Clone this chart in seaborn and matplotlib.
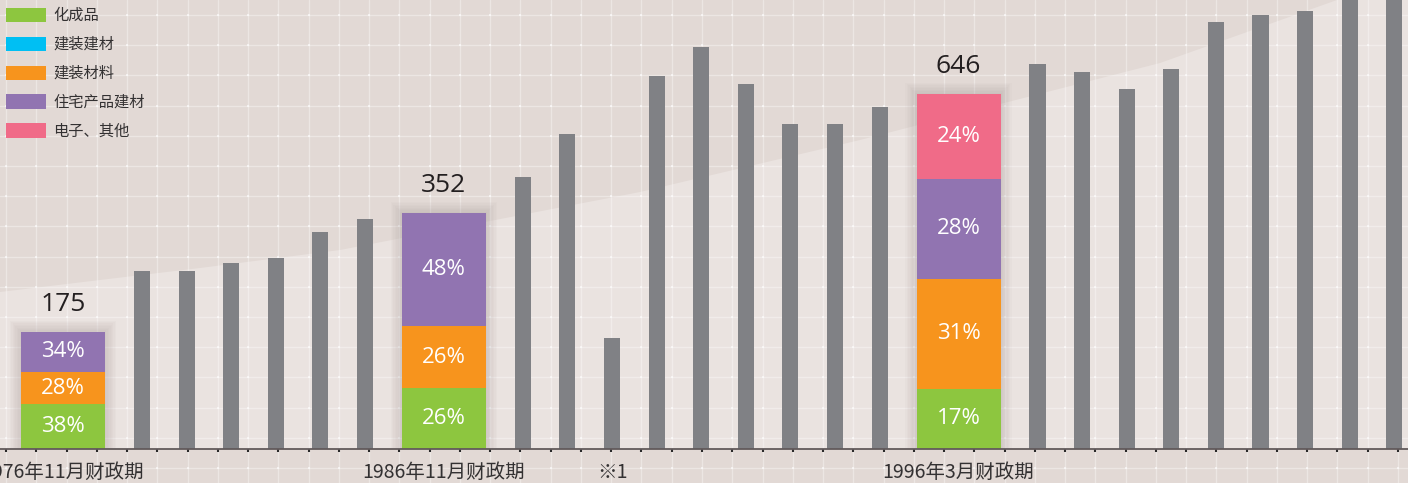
import numpy as np
import pandas as pd
import matplotlib
matplotlib.use("Agg")
import matplotlib.pyplot as plt
import seaborn as sns
from matplotlib.patches import Patch, Polygon, Rectangle

# --- data ---
segment_names = ['化成品', '建装建材', '建装材料', '住宅产品建材', '电子、其他']
segment_colors = ['#8DC63F', '#00BFF3', '#F7941D', '#9174B1', '#F06B88']

period_labels = ['1976年11月财政期', '1986年11月财政期', '1996年3月财政期']
period_totals = [175, 352, 646]
# the highlighted bars are drawn at these heights in the original artwork
period_heights = [175, 352, 530]
share_kasei = [38, 26, 17]
share_kenso_kenzai = [0, 0, 0]
share_kenso_zairyo = [28, 26, 31]
share_jutaku = [34, 48, 28]
share_denshi = [0, 0, 24]

# grey yearly bars between / after the highlighted periods
gray_group1 = [265, 265, 278, 285, 324, 343]
gray_group2 = [406, 470, 166, 557, 600, 545, 485, 485, 510]
gray_group3 = [575, 563, 537, 567, 637, 648, 654, 690, 690]
note_label = '※1'
note_index = 2  # in gray_group2

# --- layout ---
W, H, DPI = 1408, 483, 100
PX_PER_X = 44.6       # pixels per slot
PX_PER_Y = 0.67       # pixels per unit of sales
BASE_PX = 449         # y pixel of the axis line
FIRST_PX = 63         # x pixel of the first highlighted bar
WIDE_STEP = 1.77      # distance from a highlighted bar to its neighbours

shares = [share_kasei, share_kenso_kenzai, share_kenso_zairyo, share_jutaku, share_denshi]
gray_groups = [gray_group1, gray_group2, gray_group3]

x_high, x_gray, gray_vals = [], [], []
x = 0.0
for i, grp in enumerate(gray_groups):
    x_high.append(x)
    x += WIDE_STEP
    for v in grp:
        x_gray.append(x)
        gray_vals.append(v)
        x += 1.0
    x += WIDE_STEP - 1.0
x_note = x_gray[len(gray_group1) + note_index]

sns.set_style('white')
plt.rcParams['font.family'] = ['Noto Sans CJK SC', 'DejaVu Sans']
NUM_FONT = ['Open Sans', 'Noto Sans CJK SC']

fig = plt.figure(figsize=(W / DPI, H / DPI), dpi=DPI)
fig.patch.set_facecolor('#E2D9D5')

# background: lighter sweep and grid, in pixel coordinates
bg = fig.add_axes([0, 0, 1, 1], zorder=0)
bg.set_xlim(0, W)
bg.set_ylim(H, 0)
bg.axis('off')
curve = [(0, 292), (200, 268), (340, 250), (640, 192), (860, 140),
         (1160, 63), (1337, 0)]
bg.add_patch(Polygon([(0, BASE_PX)] + curve + [(W, 0), (W, BASE_PX)],
                     closed=True, facecolor='#EAE3E0', edgecolor='none'))
gx = np.arange(6, W + 1, 30.26)
gy = np.arange(15, H + 1, 30.2)
for v in gx:
    bg.axvline(v, color='white', lw=1, alpha=0.35)
for v in gy:
    bg.axhline(v, color='white', lw=1, alpha=0.35)
GX, GY = np.meshgrid(gx, gy)
bg.scatter(GX.ravel(), GY.ravel(), s=3, marker='s', color='white', alpha=0.6, lw=0)
bg.vlines(gx, BASE_PX, BASE_PX + 3, color='#2a2a2a', lw=1.5)

# main axes
ax = fig.add_axes([0, (H - BASE_PX) / H, 1, BASE_PX / H], zorder=1)
ax.patch.set_alpha(0)

gray_df = pd.DataFrame({'x': x_gray, 'sales': gray_vals})
sns.barplot(data=gray_df, x='x', y='sales', native_scale=True, width=0.36,
            color='#808185', saturation=1, errorbar=None, ax=ax, zorder=3,
            linewidth=0, edgecolor='none')

bar_w = 84 / PX_PER_X
for idx, (xi, h, tot) in enumerate(zip(x_high, period_heights, period_totals)):
    # soft shadow
    for k in range(1, 9):
        pad_x = k * 1.4 / PX_PER_X
        pad_y = k * 1.4 / PX_PER_Y
        ax.add_patch(Rectangle((xi - bar_w / 2 - pad_x, 0), bar_w + 2 * pad_x, h + pad_y,
                               facecolor='#7a6d6a', edgecolor='none', alpha=0.028, zorder=2))
    bottom = 0.0
    for name, col, sh in zip(segment_names, segment_colors, shares):
        p = sh[idx]
        if p == 0:
            continue
        seg = h * p / 100
        ax.bar(xi, seg, bottom=bottom, width=bar_w, color=col, zorder=4, lw=0)
        ax.text(xi, bottom + seg / 2, f'{p}%', ha='center', va='center',
                color='white', fontsize=16, family=NUM_FONT, zorder=5)
        bottom += seg
    ax.annotate(str(tot), (xi, h), xytext=(0, 15), textcoords='offset points',
                ha='center', va='baseline', fontsize=19, family=NUM_FONT,
                color='#231F20', zorder=5)

for xi, lab in zip(x_high + [x_note], period_labels + [note_label]):
    ax.annotate(lab, (xi, 0), xytext=(0, -17), textcoords='offset points',
                ha='center', va='center', fontsize=14, color='#333132',
                annotation_clip=False)

ax.set_xlim(-FIRST_PX / PX_PER_X, (W - FIRST_PX) / PX_PER_X)
ax.set_ylim(0, BASE_PX / PX_PER_Y)
ax.set_xticks([])
ax.set_yticks([])
ax.set_xlabel('')
ax.set_ylabel('')
for s in ['left', 'right', 'top']:
    ax.spines[s].set_visible(False)
ax.spines['bottom'].set_color('#625a5b')
ax.spines['bottom'].set_linewidth(1.3)
ax.spines['bottom'].set_zorder(6)

handles = [Patch(facecolor=c, edgecolor='none', label=n)
           for n, c in zip(segment_names, segment_colors)]
fig.legend(handles=handles, loc='upper left', bbox_to_anchor=(6 / W, 1 - 7 / H),
           frameon=False, borderpad=0, borderaxespad=0, fontsize=11,
           handlelength=2.65, handleheight=1.05, labelspacing=0.78,
           handletextpad=0.45, labelcolor='#333132')

fig.savefig('out.png', dpi=DPI, facecolor=fig.get_facecolor())
